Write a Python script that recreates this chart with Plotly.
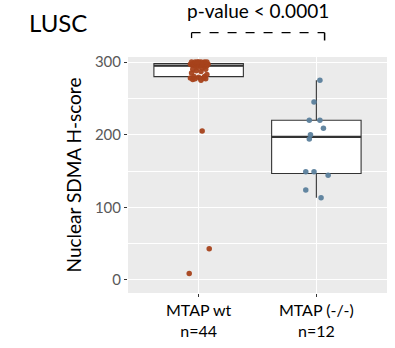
import plotly.graph_objects as go
import numpy as np

# ---- data ----
categories = ["MTAP wt<br>n=44", "MTAP (-/-)<br>n=12"]
wt_scores = [9, 43, 205,
             275, 276, 277, 277, 278, 278, 279,
             280, 280,
             283, 285, 287, 288, 290, 290, 292, 293, 294,
             295, 295,
             295, 296, 296, 296, 297, 297, 297, 297, 297,
             298, 298,
             298, 299, 299, 300, 300, 300, 300, 300, 300, 300]
wt_jitter = [-0.08, 0.09, 0.03,
             0.02, -0.05, 0.06, -0.03, 0.04, -0.07, 0.00,
             -0.04, 0.05,
             0.07, -0.06, 0.02, -0.02, 0.06, -0.05, 0.03, -0.01, 0.05,
             -0.03, 0.07,
             0.01, -0.06, 0.04, -0.02, 0.06, -0.04, 0.02, 0.08, -0.07,
             0.03, -0.05,
             0.06, -0.02, 0.04, -0.06, 0.00, 0.05, -0.03, 0.07, 0.02, -0.01]
null_scores = [275, 245, 220, 220, 209, 200, 194, 149, 149, 144, 124, 113]
null_jitter = [0.03, -0.02, -0.06, 0.03, 0.06, -0.05, -0.06, -0.09, -0.02, 0.10, -0.09, 0.04]
y_ticks = [0, 100, 200, 300]

brown = "#a6421b"
blue = "#5b809c"
font_family = "Lato, 'Open Sans', sans-serif"

fig = go.Figure()
groups = [(1, wt_scores, wt_jitter, brown), (2, null_scores, null_jitter, blue)]
for xpos, vals, jit, col in groups:
    fig.add_trace(go.Box(
        y=vals, x0=xpos, width=0.76, boxpoints="outliers", quartilemethod="inclusive",
        marker=dict(opacity=0, size=1),
        fillcolor="white", line=dict(color="#333333", width=1.1), whiskerwidth=0,
        showlegend=False, hoverinfo="skip"))
for xpos, vals, jit, col in groups:
    med = float(np.median(vals))
    fig.add_trace(go.Scatter(x=[xpos - 0.38, xpos + 0.38], y=[med, med], mode="lines",
                             line=dict(color="#333333", width=2.2), showlegend=False, hoverinfo="skip"))
for xpos, vals, jit, col in groups:
    fig.add_trace(go.Scatter(
        x=[xpos + j for j in jit], y=vals, mode="markers",
        marker=dict(color=col, size=5.5, opacity=0.95),
        showlegend=False))

# significance bracket
fig.add_shape(type="line", xref="x", yref="paper", x0=0.94, x1=2.07, y0=1.103, y1=1.103,
              line=dict(color="black", width=1.3, dash="dash"))
fig.add_shape(type="line", xref="x", yref="paper", x0=0.94, x1=0.94, y0=1.103, y1=1.08,
              line=dict(color="black", width=1.3))
fig.add_shape(type="line", xref="x", yref="paper", x0=2.07, x1=2.07, y0=1.103, y1=1.07,
              line=dict(color="black", width=1.5))
fig.add_annotation(text="p-value < 0.0001", xref="x", yref="paper", x=1.5, y=1.195,
                   yanchor="middle", showarrow=False,
                   font=dict(family=font_family, size=19, color="black"))
fig.add_annotation(text="LUSC", xref="paper", yref="paper", x=-0.39, y=1.145,
                   xanchor="left", yanchor="middle", showarrow=False,
                   font=dict(family=font_family, size=24, color="black"))

fig.update_layout(
    width=395, height=348,
    margin=dict(l=128, r=8, t=57, b=49),
    paper_bgcolor="white", plot_bgcolor="#ebebeb",
    font=dict(family=font_family),
    xaxis=dict(range=[0.4, 2.6], tickvals=[1, 2], ticktext=categories,
               showgrid=True, gridcolor="white", gridwidth=1.2, zeroline=False,
               ticks="outside", ticklen=3, tickcolor="#333333",
               tickfont=dict(size=16, color="black")),
    yaxis=dict(range=[-18, 307], tickvals=y_ticks, ticktext=[str(v) for v in y_ticks],
               showgrid=True, gridcolor="white", gridwidth=1.2, zeroline=False,
               ticks="outside", ticklen=3, tickcolor="#333333",
               tickfont=dict(size=15, color="#595959"),
               minor=dict(dtick=50, tick0=0, showgrid=True, gridcolor="white", gridwidth=0.6),
               title=dict(text="Nuclear SDMA H-score", font=dict(size=19, color="black"), standoff=8)),
)

fig.write_html("out.html")
